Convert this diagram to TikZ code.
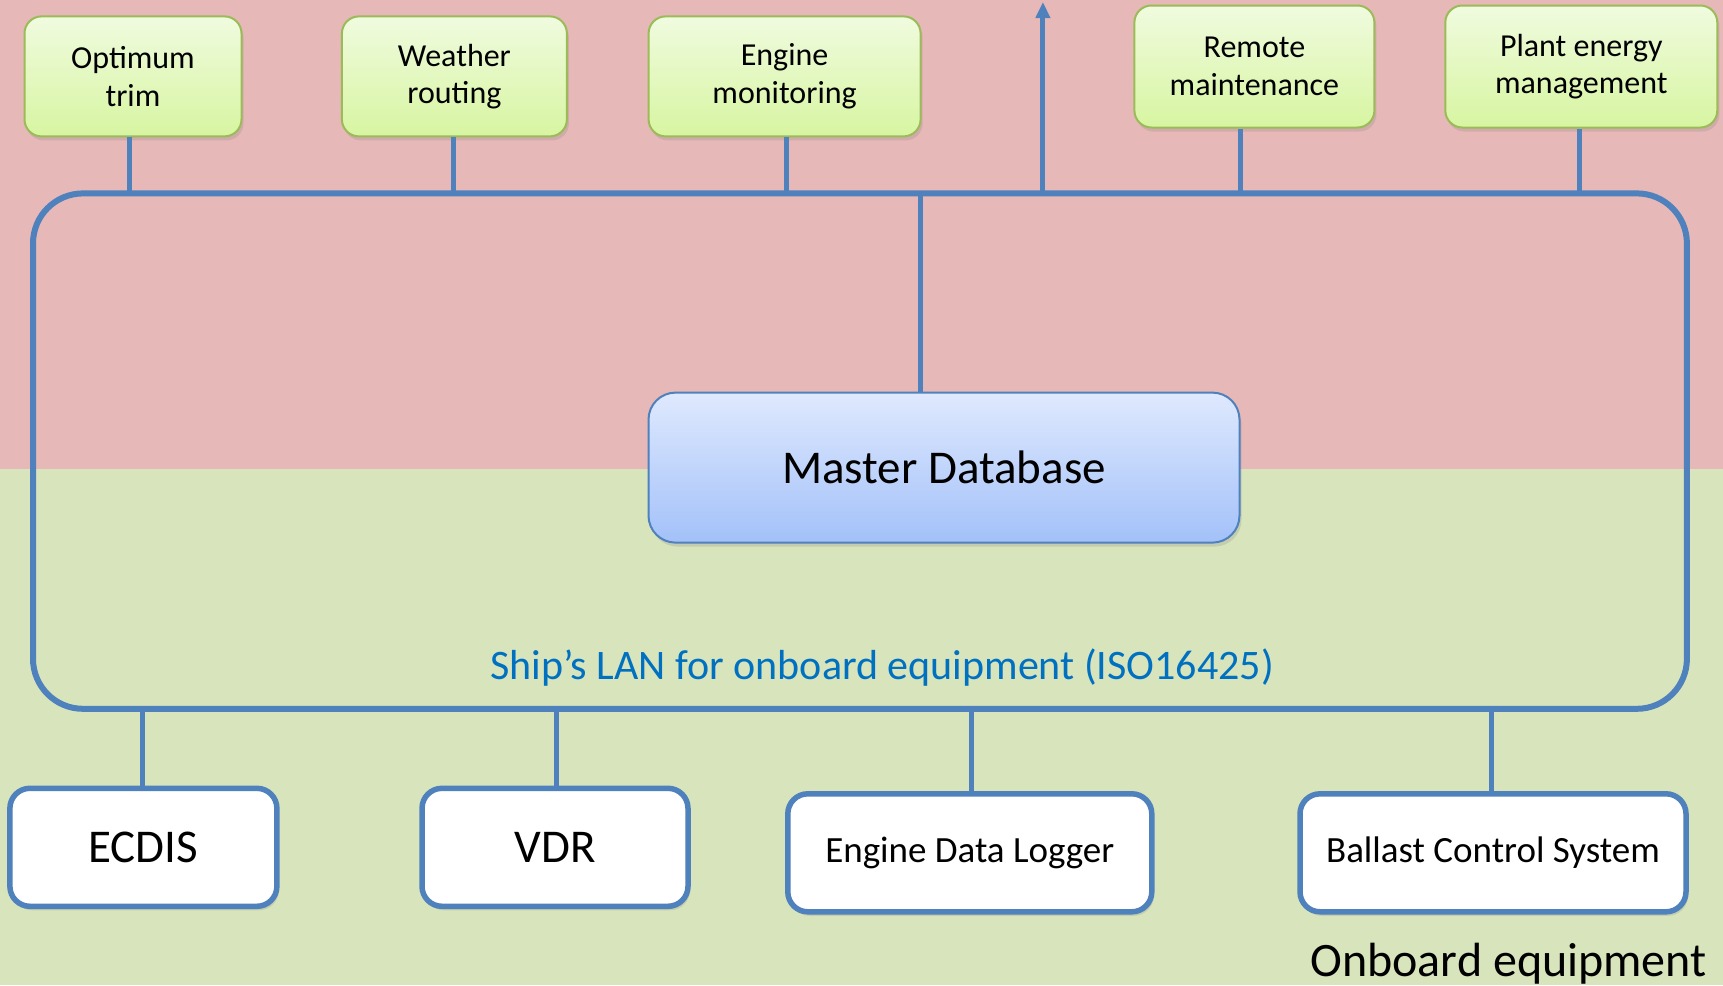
\documentclass[tikz,border=0pt]{standalone}
\usepackage{fontspec}
\setmainfont{Carlito}
\usetikzlibrary{arrows.meta,shadows}
\definecolor{toppink}{HTML}{E6B8B7}
\definecolor{lowgreen}{HTML}{D8E4BC}
\definecolor{linkblue}{HTML}{4F81BD}
\definecolor{appedge}{HTML}{9BBB59}
\definecolor{apptop}{HTML}{F0FBDF}
\definecolor{appbot}{HTML}{D7F5A1}
\definecolor{dbtop}{HTML}{DFE9FE}
\definecolor{dbbot}{HTML}{A3C1F9}
\definecolor{lantext}{HTML}{0070C0}
\tikzset{
  softshadow/.style={drop shadow={opacity=0.22,shadow xshift=2pt,shadow yshift=-4pt}},
  appbox/.style={draw=appedge, line width=2pt, rounded corners=17pt,
    top color=apptop, bottom color=appbot, inner sep=0pt, align=center,
    font=\fontsize{32}{37.5}\selectfont, softshadow},
  dbbox/.style={draw=linkblue, line width=2pt, rounded corners=27pt,
    top color=dbtop, bottom color=dbbot, inner sep=0pt,
    font=\fontsize{47}{56}\selectfont, softshadow},
  devbox/.style={draw=linkblue, line width=5.5pt, rounded corners=20pt,
    fill=white, inner sep=0pt, minimum height=118pt, softshadow},
  link/.style={draw=linkblue, line width=5pt},
  lanframe/.style={draw=linkblue, line width=6pt, rounded corners=50pt},
}
\begin{document}
\begin{tikzpicture}[x=1pt,y=-1pt]
  % page and the two zones
  \useasboundingbox (0,0) rectangle (1723,985);
  \fill[toppink] (0,0) rectangle (1723,469);
  \fill[lowgreen] (0,469) rectangle (1723,985);

  % LAN ring (its top edge is the bus)
  \draw[lanframe] (33,193.4) rectangle (1686.9,708.8);

  % taps on the upper bus
  \coordinate (t1) at (129.7,193.4);
  \coordinate (t2) at (453.8,193.4);
  \coordinate (t3) at (786.8,193.4);
  \coordinate (t4) at (920.9,193.4);
  \coordinate (t5) at (1042.9,193.4);
  \coordinate (t6) at (1240.7,193.4);
  \coordinate (t7) at (1579.1,193.4);
  \coordinate (outlink) at (1042.9,2);
  % taps on the lower bus
  \coordinate (b1) at (142.9,708.8);
  \coordinate (b2) at (556,708.8);
  \coordinate (b3) at (971.4,708.8);
  \coordinate (b4) at (1491.2,708.8);

  % application boxes
  \node[appbox, minimum width=217pt, minimum height=120pt] (opt) at (133,76.4) {Optimum\\trim};
  \node[appbox, minimum width=225pt, minimum height=120pt] (wea) at (454.4,76.4) {Weather\\routing};
  \node[appbox, minimum width=272pt, minimum height=120pt] (eng) at (784.6,76.4) {Engine\\monitoring};
  \node[appbox, minimum width=240pt, minimum height=122pt] (rem) at (1254.4,66.5) {Remote\\maintenance};
  \node[appbox, minimum width=272pt, minimum height=122pt] (pem) at (1581.3,66.5) {Plant energy\\management};

  % master database
  \node[dbbox, minimum width=591pt, minimum height=150pt] (mdb) at (944,467.6) {Master Database};

  % onboard devices
  \node[devbox, minimum width=267pt, font=\fontsize{47}{56}\selectfont] (ecdis) at (143.4,847.3) {ECDIS};
  \node[devbox, minimum width=266pt, font=\fontsize{47}{56}\selectfont] (vdr) at (555,847.3) {VDR};
  \node[devbox, minimum width=364pt, font=\fontsize{37}{44}\selectfont] (edl) at (969.8,852.8) {Engine Data Logger};
  \node[devbox, minimum width=386pt, font=\fontsize{37}{44}\selectfont] (bcs) at (1493,852.8) {Ballast Control System};

  % connectors
  \draw[link] (t1) -- (t1 |- opt.south);
  \draw[link] (t2) -- (t2 |- wea.south);
  \draw[link] (t3) -- (t3 |- eng.south);
  \draw[link] (t6) -- (t6 |- rem.south);
  \draw[link] (t7) -- (t7 |- pem.south);
  \draw[link] (t4) -- (t4 |- mdb.north);
  \draw[link, -{Triangle[width=14pt,length=16pt]}] (t5) -- (outlink);
  \draw[link] (b1) -- (b1 |- ecdis.north);
  \draw[link] (b2) -- (b2 |- vdr.north);
  \draw[link] (b3) -- (b3 |- edl.north);
  \draw[link] (b4) -- (b4 |- bcs.north);

  % labels
  \node[anchor=base, text=lantext, font=\fontsize{42}{50}\selectfont, inner sep=0pt] (lan) at (882,679) {Ship’s LAN for onboard equipment (ISO16425)};
  \node[anchor=base east, font=\fontsize{48}{56}\selectfont, inner sep=0pt] (zone) at (1707,976) {Onboard equipment};
\end{tikzpicture}
\end{document}
